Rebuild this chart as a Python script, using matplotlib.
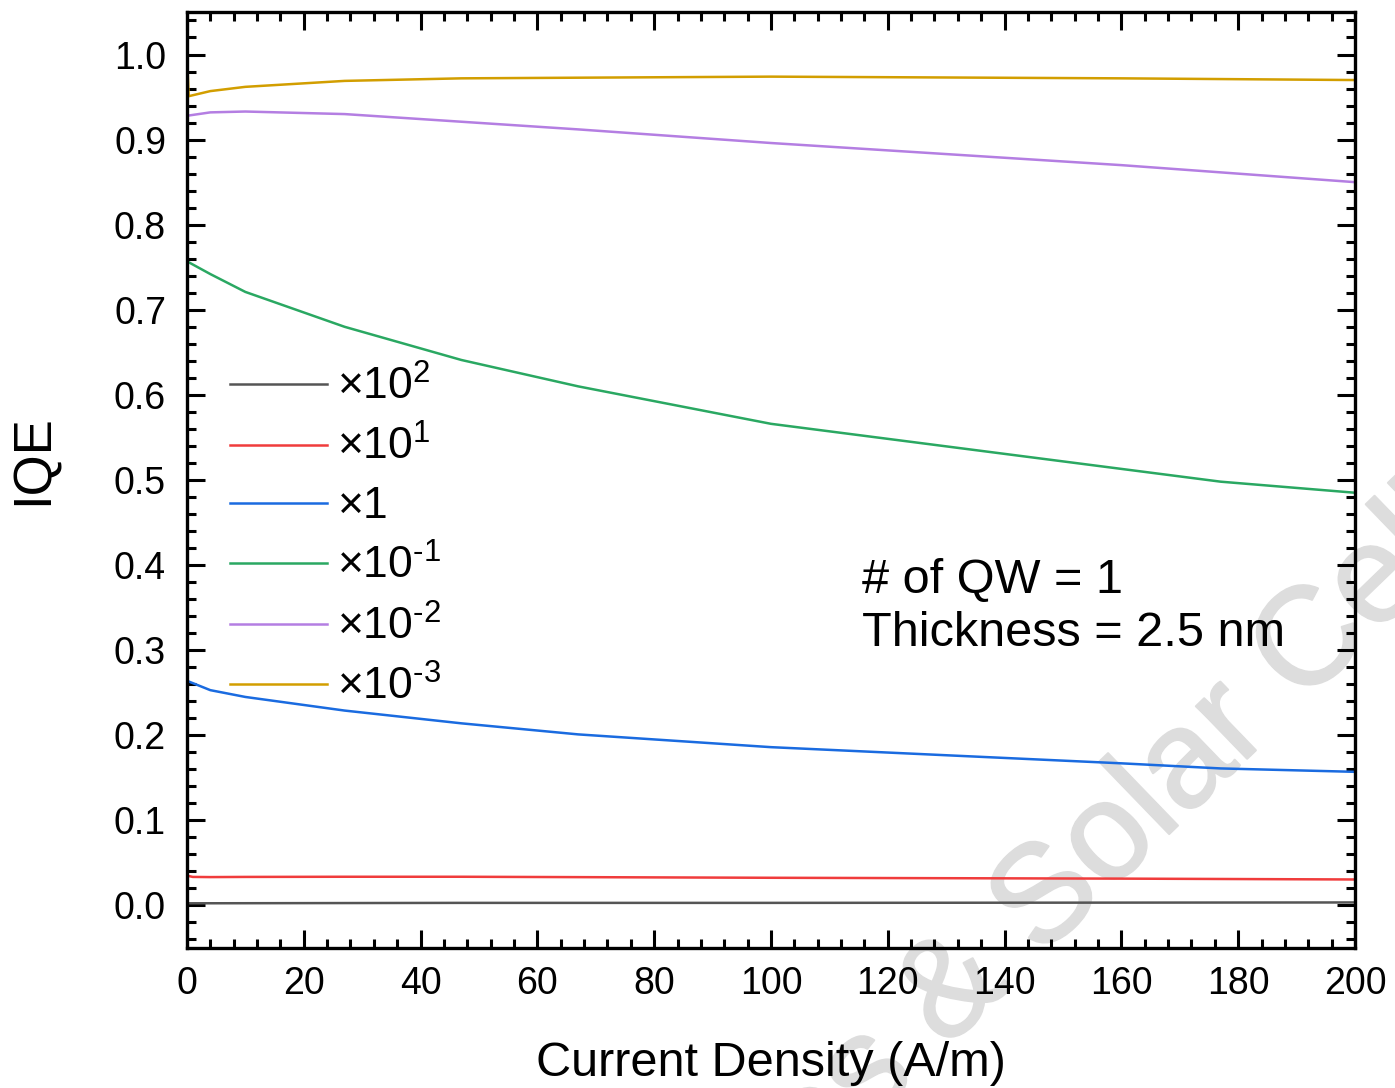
import matplotlib
matplotlib.use("Agg")
import matplotlib.pyplot as plt
import matplotlib.patheffects as pe
from matplotlib.ticker import MultipleLocator

plt.rcParams['font.family'] = ['Liberation Sans', 'DejaVu Sans']
plt.rcParams['mathtext.fontset'] = 'custom'
plt.rcParams['mathtext.rm'] = 'Liberation Sans'
plt.rcParams['mathtext.it'] = 'Liberation Sans:italic'

# current density (A/m) and IQE for each scaling factor
x_e2 = [0, 0, 10, 47, 100, 160, 200]
y_e2 = [0, 0.0025, 0.0026, 0.003, 0.003, 0.0033, 0.0035]

x_e1 = [0, 0, 1, 4, 10, 27, 47, 100, 160, 200]
y_e1 = [0, 0.035, 0.0335, 0.0333, 0.0335, 0.0337, 0.0337, 0.0325, 0.0315, 0.0305]

x_e0 = [0, 0, 4, 10, 27, 47, 67, 100, 160, 177, 200]
y_e0 = [0, 0.264, 0.253, 0.245, 0.229, 0.214, 0.201, 0.186, 0.167, 0.161, 0.157]

x_m1 = [0, 0, 4, 10, 27, 47, 67, 100, 177, 200]
y_m1 = [0, 0.757, 0.742, 0.721, 0.680, 0.641, 0.610, 0.566, 0.498, 0.485]

x_m2 = [0, 0, 4, 10, 27, 47, 67, 100, 160, 200]
y_m2 = [0, 0.928, 0.932, 0.933, 0.930, 0.921, 0.912, 0.896, 0.870, 0.850]

x_m3 = [0, 0, 0.3, 4, 10, 27, 47, 100, 160, 200]
y_m3 = [0, 1.0, 0.951, 0.957, 0.962, 0.969, 0.972, 0.974, 0.972, 0.970]

series = [
    (x_e2, y_e2, '#555555', r'$\times$10$^{2}$'),
    (x_e1, y_e1, '#f03c3c', r'$\times$10$^{1}$'),
    (x_e0, y_e0, '#1a6be0', r'$\times$1'),
    (x_m1, y_m1, '#2aa862', r'$\times$10$^{\text{-}1}$'),
    (x_m2, y_m2, '#b47ee2', r'$\times$10$^{\text{-}2}$'),
    (x_m3, y_m3, '#d29e00', r'$\times$10$^{\text{-}3}$'),
]

fig = plt.figure(figsize=(13.95, 10.88), dpi=100)
ax = fig.add_axes([0.134, 0.1287, 0.8373, 0.8603])
ax.patch.set_alpha(0)

# faint watermark behind the plot
fig.text(1018 / 1395, 1 - 930 / 1088, 'Devices & Solar Cells', fontsize=100,
         color='#dddddd', rotation=44, ha='center', va='center',
         rotation_mode='anchor', zorder=-5,
         path_effects=[pe.withStroke(linewidth=1.5, foreground='#dddddd')])

for xs, ys, c, lab in series:
    ax.plot(xs, ys, color=c, lw=1.8, label=lab)

ax.set_xlim(0, 200)
ax.set_ylim(-0.05, 1.05)
ax.xaxis.set_major_locator(MultipleLocator(20))
ax.xaxis.set_minor_locator(MultipleLocator(4))
ax.yaxis.set_major_locator(MultipleLocator(0.1))
ax.yaxis.set_minor_locator(MultipleLocator(0.02))
ax.yaxis.set_major_formatter(plt.FuncFormatter(lambda v, p: f'{v:.1f}'))

ax.tick_params(which='both', direction='in', top=True, right=True, width=2.2)
ax.tick_params(which='major', length=13, labelsize=27)
ax.tick_params(axis='x', which='major', pad=13)
ax.tick_params(axis='y', which='major', pad=15)
ax.tick_params(which='minor', length=6.5)
for s in ax.spines.values():
    s.set_linewidth(2.4)

ax.set_xlabel('Current Density (A/m)', fontsize=35)
ax.set_ylabel('IQE', fontsize=38)
ax.xaxis.set_label_coords(0.5, -0.099)
ax.yaxis.set_label_coords(-0.110, 0.522)

ax.legend(loc='upper left', bbox_to_anchor=(0.003, 0.665), frameon=False,
          fontsize=32, handlelength=2.18, handletextpad=0.22, labelspacing=0.39)

ax.text(115.6, 0.367, '# of QW = 1', fontsize=35, va='baseline')
ax.text(115.6, 0.305, 'Thickness = 2.5 nm', fontsize=35, va='baseline')

fig.savefig('out.png', dpi=100)
